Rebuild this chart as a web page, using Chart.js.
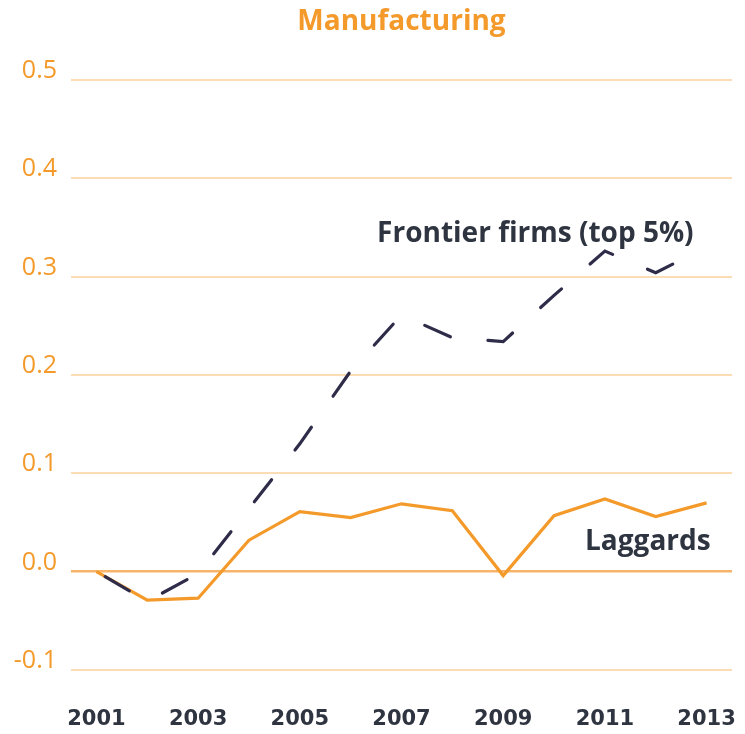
<!DOCTYPE html>
<html>
<head>
<meta charset="utf-8">
<script src="https://cdn.jsdelivr.net/npm/chart.js@4/dist/chart.umd.min.js"></script>
<style>
  html, body { margin: 0; padding: 0; background: #ffffff; overflow: hidden; }
  #wrap { width: 745px; height: 734px; position: relative; }
  canvas { display: block; }
</style>
</head>
<body>
<div id="wrap"><canvas id="c" width="745" height="734" style="width:745px;height:734px"></canvas></div>
<script>
const years = ['2001','2002','2003','2004','2005','2006','2007','2008','2009','2010','2011','2012','2013'];
const frontier = [0.0, -0.03, -0.002, 0.064, 0.13, 0.204, 0.261, 0.238, 0.234, 0.281, 0.326, 0.304, 0.33];
const laggards = [0.0, -0.029, -0.027, 0.032, 0.061, 0.055, 0.069, 0.062, -0.004, 0.057, 0.074, 0.056, 0.070];
const yTicks = [-0.1, 0.0, 0.1, 0.2, 0.3, 0.4, 0.5];
const titleText = 'Manufacturing';
const frontierLabel = 'Frontier firms (top 5%)';
const laggardsLabel = 'Laggards';

const ORANGE = '#f39a2b';
const DARK = '#2e3440';
const NAVY = '#2f2c4a';
const FONT = "'Open Sans', sans-serif";

const labelPlugin = {
  id: 'seriesLabels',
  afterDatasetsDraw(chart) {
    const ctx = chart.ctx;
    const xs = chart.scales.x, ys = chart.scales.y;
    ctx.save();
    ctx.fillStyle = DARK;
    ctx.textBaseline = 'alphabetic';
    ctx.textAlign = 'left';
    ctx.font = "bold 28px " + FONT;
    ctx.fillText(frontierLabel, xs.getPixelForValue(5.52), ys.getPixelForValue(0.3357));
    ctx.fillText(laggardsLabel, xs.getPixelForValue(9.61), ys.getPixelForValue(0.0224));
    ctx.restore();
  }
};

new Chart(document.getElementById('c'), {
  type: 'line',
  data: {
    labels: years,
    datasets: [
      {
        label: 'Laggards',
        data: laggards,
        borderColor: ORANGE,
        borderWidth: 3.2,
        pointRadius: 0,
        tension: 0,
        fill: false,
        order: 2
      },
      {
        label: 'Frontier firms (top 5%)',
        data: frontier,
        borderColor: NAVY,
        borderWidth: 3.2,
        borderDash: [28, 37.9],
        borderDashOffset: -10.1,
        borderCapStyle: 'round',
        pointRadius: 0,
        tension: 0,
        fill: false,
        order: 1
      }
    ]
  },
  options: {
    responsive: false,
    animation: false,
    devicePixelRatio: 1,
    layout: { padding: { left: 0, right: 13, top: 0, bottom: 0 } },
    plugins: {
      legend: { display: false },
      tooltip: { enabled: false },
      title: {
        display: true,
        fullSize: false,
        text: titleText,
        color: ORANGE,
        font: { family: FONT, size: 28, weight: 'bold' },
        padding: { top: 5, bottom: 41.4 }
      }
    },
    scales: {
      x: {
        type: 'category',
        offset: true,
        afterFit(scale) { scale.height = 64; scale.paddingLeft = 0; scale.paddingRight = 0; },
        grid: { display: false, drawTicks: false },
        border: { display: false },
        ticks: {
          autoSkip: false,
          maxRotation: 0,
          minRotation: 0,
          padding: 37,
          color: DARK,
          font: { family: "'DejaVu Sans', sans-serif", size: 21, weight: 'bold' },
          callback: function(v, i) { return i % 2 === 0 ? years[i] : ''; }
        }
      },
      y: {
        min: -0.1,
        max: 0.5,
        afterFit(scale) { scale.width = 71; scale.paddingTop = 0; scale.paddingBottom = 0; },
        afterBuildTicks(scale) { scale.ticks = yTicks.map(v => ({ value: v })); },
        grid: {
          drawTicks: false,
          color: ctx => (ctx.tick && Math.abs(ctx.tick.value) < 1e-9) ? '#f7b46a' : '#fcdcb5',
          lineWidth: ctx => (ctx.tick && Math.abs(ctx.tick.value) < 1e-9) ? 2.5 : 2
        },
        border: { display: false },
        ticks: {
          padding: 14,
          labelOffset: -9,
          color: ORANGE,
          font: { family: FONT, size: 25 },
          callback: v => v.toFixed(1)
        }
      }
    }
  },
  plugins: [labelPlugin]
});
</script>
</body>
</html>
